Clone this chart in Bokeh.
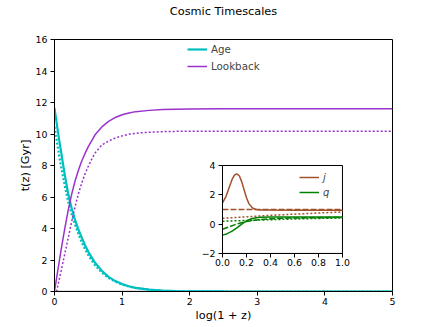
from bokeh.plotting import figure
from bokeh.models import (Range1d, LinearAxis, FixedTicker, Legend, LegendItem,
                          Span, PrintfTickFormatter, Title)
from bokeh.embed import file_html
from bokeh.resources import INLINE

FONT = "DejaVu Sans"

# ---------------- data ----------------
x_main = [0, 0.02, 0.04, 0.07, 0.1, 0.15, 0.2, 0.25, 0.3, 0.35, 0.4, 0.45, 0.5,
          0.6, 0.7, 0.8, 0.9, 1.0, 1.1, 1.2, 1.4, 1.6, 1.8, 2.0, 2.5, 3.0, 4.0, 5.0]
age_solid = [11.65, 11.05, 10.45, 9.6, 8.8, 7.45, 6.25, 5.35, 4.6, 3.98, 3.45, 2.95, 2.52,
             1.82, 1.32, 0.93, 0.66, 0.47, 0.33, 0.23, 0.12, 0.06, 0.03, 0.015, 0.003, 0.0, 0.0, 0.0]
age_dotted = [10.45, 9.95, 9.4, 8.6, 7.85, 6.75, 5.75, 4.95, 4.3, 3.7, 3.15, 2.7, 2.3,
              1.66, 1.2, 0.86, 0.62, 0.44, 0.31, 0.22, 0.11, 0.05, 0.025, 0.012, 0.002, 0.0, 0.0, 0.0]
lookback_solid = [0.0, 0.55, 1.1, 1.9, 2.7, 3.95, 5.1, 6.1, 6.95, 7.65, 8.25, 8.75, 9.2,
                  9.95, 10.45, 10.8, 11.05, 11.22, 11.33, 11.42, 11.5, 11.55, 11.57, 11.58, 11.6, 11.6, 11.6, 11.6]
x_lookback_dotted = [0.03, 0.1, 0.15, 0.2, 0.25, 0.3, 0.35, 0.4, 0.45, 0.5, 0.55, 0.6, 0.7,
                     0.8, 0.9, 1.0, 1.12, 1.27, 1.4, 1.67, 2.0, 2.5, 3.0, 4.0, 5.0]
lookback_dotted = [0.0, 1.35, 2.35, 3.35, 4.35, 5.3, 6.15, 6.85, 7.45, 7.95, 8.4, 8.8, 9.3,
                   9.55, 9.75, 9.88, 10.0, 10.07, 10.11, 10.16, 10.18, 10.18, 10.18, 10.18, 10.18]

x_j_solid = [0, 0.03, 0.06, 0.08, 0.10, 0.12, 0.14, 0.16, 0.18, 0.2, 0.22, 0.25, 0.28, 0.32, 0.4, 0.6, 0.8, 1.0]
j_solid = [1.45, 1.9, 2.6, 3.05, 3.35, 3.43, 3.3, 2.9, 2.35, 1.8, 1.4, 1.1, 1.0, 0.97, 0.96, 0.95, 0.95, 0.95]
x_j_dashed = [0, 0.5, 1.0]
j_dashed = [1.0, 1.0, 1.0]
x_j_dotted = [0, 0.2, 0.4, 0.6, 0.8, 1.0]
j_dotted = [0.4, 0.5, 0.6, 0.68, 0.76, 0.83]
x_q_solid = [0, 0.04, 0.08, 0.12, 0.16, 0.2, 0.24, 0.28, 0.32, 0.4, 0.6, 0.8, 1.0]
q_solid = [-0.75, -0.65, -0.48, -0.25, 0.0, 0.22, 0.37, 0.44, 0.47, 0.48, 0.48, 0.48, 0.48]
x_q_dashed = [0, 0.05, 0.1, 0.15, 0.2, 0.25, 0.3, 0.4, 0.5, 0.6, 0.8, 1.0]
q_dashed = [-0.35, -0.2, -0.05, 0.08, 0.18, 0.25, 0.3, 0.36, 0.4, 0.42, 0.44, 0.45]
x_q_dotted = [0, 0.2, 0.4, 0.6, 0.8, 1.0]
q_dotted = [0.2, 0.25, 0.3, 0.35, 0.39, 0.42]

main_xlim = (0, 5)
main_ylim = (0, 16)
main_xticks = [0, 1, 2, 3, 4, 5]
main_yticks = [0, 2, 4, 6, 8, 10, 12, 14, 16]
inset_xlim = (0.0, 1.0)
inset_ylim = (-2.0, 4.0)
inset_xticks = [0.0, 0.2, 0.4, 0.6, 0.8, 1.0]
inset_yticks = [-2, 0, 2, 4]
inset_ytick_labels = {-2: "\u22122", 0: "0", 2: "2", 4: "4"}
# inset box in main axes fraction: left, bottom, width, height
inset_box = (0.497, 0.151, 0.355, 0.349)

C_AGE = "#00bfbf"
C_LB = "darkorchid"
C_J = "sienna"
C_Q = "green"
DOT = "2 2"
DASH = "6 2"

# ---------------- main figure ----------------
p = figure(width=436, height=327, x_range=Range1d(*main_xlim), y_range=Range1d(*main_ylim),
           output_backend="svg", toolbar_location=None,
           min_border_left=54, min_border_right=44, min_border_top=39, min_border_bottom=36,
           title="Cosmic Timescales")
p.title.align = "center"
p.title.text_font = FONT
p.title.text_font_size = "11.3px"
p.title.text_font_style = "normal"
p.title.text_color = "black"
p.title.offset = -5
p.title.standoff = 0
# spacer between the title and the frame
p.add_layout(Title(text=" ", text_font_size="1px", standoff=19), "above")

p.background_fill_color = "white"
p.border_fill_color = "white"
p.outline_line_color = "black"
p.outline_line_width = 1
p.outline_line_alpha = 1
p.xgrid.visible = False
p.ygrid.visible = False

for ax in (p.xaxis[0], p.yaxis[0]):
    ax.axis_line_color = "black"
    ax.major_tick_line_color = "black"
    ax.minor_tick_line_color = None
    ax.major_tick_in = 0
    ax.major_tick_out = 4
    ax.major_label_text_font = FONT
    ax.major_label_text_font_size = "9.4px"
    ax.major_label_text_color = "black"
    ax.axis_label_text_font = FONT
    ax.axis_label_text_font_size = "11.3px"
    ax.axis_label_text_font_style = "normal"
    ax.axis_label_text_color = "black"
p.xaxis.ticker = FixedTicker(ticks=main_xticks)
p.yaxis.ticker = FixedTicker(ticks=main_yticks)
p.xaxis.axis_label = "log(1 + z)"
p.yaxis.axis_label = "t(z) [Gyr]"
p.xaxis.major_label_standoff = 2
p.xaxis.axis_label_standoff = 1
p.yaxis.major_label_standoff = 3
p.yaxis.axis_label_standoff = 1

p.add_layout(Span(location=0, dimension="width", line_color="gray", line_width=1.5, level="underlay"))

r_age = p.line(x_main, age_solid, line_color=C_AGE, line_width=2.2)
p.line(x_main, age_dotted, line_color=C_AGE, line_width=2.2, line_dash=DOT)
r_lb = p.line(x_main, lookback_solid, line_color=C_LB, line_width=1.5)
p.line(x_lookback_dotted, lookback_dotted, line_color=C_LB, line_width=1.5, line_dash=DOT)

leg = Legend(items=[LegendItem(label="Age", renderers=[r_age]),
                    LegendItem(label="Lookback", renderers=[r_lb])],
             location=(133, 218), border_line_color=None, background_fill_alpha=0,
             padding=0, margin=0, spacing=3, glyph_width=20, glyph_height=14,
             label_height=14, label_standoff=4, label_text_font=FONT,
             label_text_font_size="10.3px")
p.add_layout(leg, "center")

# ---------------- inset (extra ranges mapped onto a sub-box) ----------------
bl, bb, bw, bh = inset_box
ixw = (inset_xlim[1] - inset_xlim[0]) / bw
iyh = (inset_ylim[1] - inset_ylim[0]) / bh
ix0 = inset_xlim[0] - bl * ixw
iy0 = inset_ylim[0] - bb * iyh
p.extra_x_ranges = {"ix": Range1d(ix0, ix0 + ixw)}
p.extra_y_ranges = {"iy": Range1d(iy0, iy0 + iyh)}
kw = dict(x_range_name="ix", y_range_name="iy")

p.quad(left=[inset_xlim[0]], right=[inset_xlim[1]], bottom=[inset_ylim[0]], top=[inset_ylim[1]],
       fill_color="white", line_color="black", line_width=1, **kw)

r_j = p.line(x_j_solid, j_solid, line_color=C_J, line_width=1.5, **kw)
p.line(x_j_dashed, j_dashed, line_color=C_J, line_width=1.5, line_dash=DASH, **kw)
p.line(x_j_dotted, j_dotted, line_color=C_J, line_width=1.5, line_dash=DOT, **kw)
r_q = p.line(x_q_solid, q_solid, line_color=C_Q, line_width=1.5, **kw)
p.line(x_q_dashed, q_dashed, line_color=C_Q, line_width=1.5, line_dash=DASH, **kw)
p.line(x_q_dotted, q_dotted, line_color=C_Q, line_width=1.5, line_dash=DOT, **kw)

iax = LinearAxis(fixed_location=inset_ylim[0], bounds=inset_xlim,
                 ticker=FixedTicker(ticks=inset_xticks),
                 formatter=PrintfTickFormatter(format="%.1f"), **kw)
iay = LinearAxis(fixed_location=inset_xlim[0], bounds=inset_ylim,
                 ticker=FixedTicker(ticks=inset_yticks),
                 major_label_overrides=inset_ytick_labels, **kw)
for ax in (iax, iay):
    ax.axis_line_color = "black"
    ax.major_tick_line_color = "black"
    ax.minor_tick_line_color = None
    ax.major_tick_in = 0
    ax.major_tick_out = 4
    ax.major_label_text_font = FONT
    ax.major_label_text_font_size = "9.4px"
    ax.major_label_text_color = "black"
iax.major_label_standoff = 2
iay.major_label_standoff = 3
p.add_layout(iax, "below")
p.add_layout(iay, "left")

ileg = Legend(items=[LegendItem(label="j", renderers=[r_j]),
                     LegendItem(label="q", renderers=[r_q])],
              location=(245, 93), border_line_color=None, background_fill_alpha=0,
              padding=0, margin=0, spacing=3, glyph_width=20, glyph_height=12,
              label_height=12, label_standoff=4, label_text_font=FONT,
              label_text_font_style="italic", label_text_font_size="10px")
p.add_layout(ileg, "center")

open("out.html", "w").write(file_html(p, INLINE))
